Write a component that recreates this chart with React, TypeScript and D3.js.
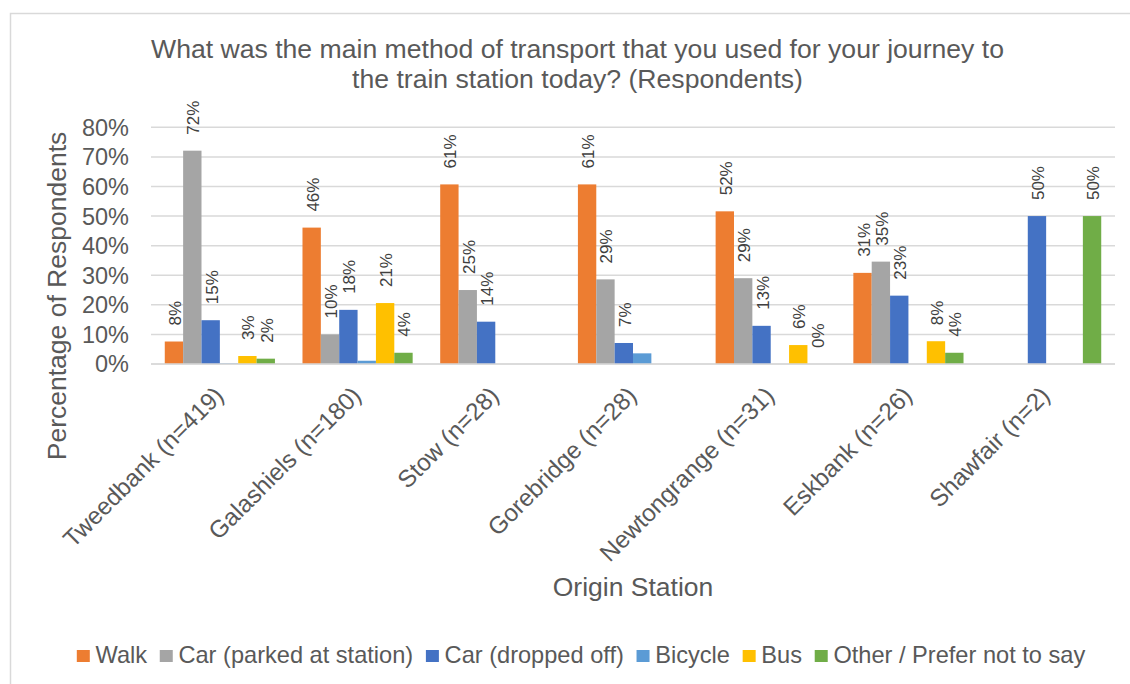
import React, { useEffect, useRef } from "react";
import * as d3 from "d3";

const categories = [
  "Tweedbank (n=419)",
  "Galashiels (n=180)",
  "Stow (n=28)",
  "Gorebridge (n=28)",
  "Newtongrange (n=31)",
  "Eskbank (n=26)",
  "Shawfair (n=2)",
];

const seriesNames = [
  "Walk",
  "Car (parked at station)",
  "Car (dropped off)",
  "Bicycle",
  "Bus",
  "Other / Prefer not to say",
];
const seriesColors = ["#ED7D31", "#A5A5A5", "#4472C4", "#5B9BD5", "#FFC000", "#70AD47"];
const seriesLabelled = [true, true, true, false, true, true];

const walk: (number | null)[] = [7.6, 46.1, 60.7, 60.7, 51.6, 30.8, null];
const carParked: (number | null)[] = [72.1, 10.0, 25.0, 28.6, 29.0, 34.6, null];
const carDropped: (number | null)[] = [14.8, 18.3, 14.3, 7.1, 12.9, 23.1, 50];
const bicycle: (number | null)[] = [0.2, 1.1, null, 3.6, null, null, null];
const bus: (number | null)[] = [2.7, 20.6, null, null, 6.4, 7.7, null];
const other: (number | null)[] = [1.8, 3.8, null, null, 0, 3.8, 50];

const seriesValues = [walk, carParked, carDropped, bicycle, bus, other];

const yTicks = [0, 10, 20, 30, 40, 50, 60, 70, 80];

const titleLines = [
  "What was the main method of transport that you used for your journey to",
  "the train station today? (Respondents)",
];
const yTitle = "Percentage of Respondents";
const xTitle = "Origin Station";

const W = 1130;
const H = 684;
const FONT = "'Liberation Sans', Arial, sans-serif";
const TEXT = "#595959";

export default function App() {
  const ref = useRef<SVGSVGElement | null>(null);

  useEffect(() => {
    const svg = d3.select(ref.current);
    svg.selectAll("*").remove();

    // frame
    svg
      .append("rect")
      .attr("x", 10.5)
      .attr("y", 13.5)
      .attr("width", 1300)
      .attr("height", 900)
      .attr("fill", "#fff")
      .attr("stroke", "#D9D9D9")
      .attr("stroke-width", 1.5);

    const left = 151;
    const right = 1115;
    const top = 127.3;
    const bottom = 364;

    const x0 = d3.scaleBand<string>().domain(categories).range([left, right]).paddingInner(0).paddingOuter(0);
    const x1 = d3
      .scaleBand<string>()
      .domain(seriesNames)
      .range([0, x0.bandwidth()])
      .paddingInner(0)
      .paddingOuter(0.75);
    const y = d3.scaleLinear().domain([0, 80]).range([bottom, top]);

    // title
    const title = svg
      .append("text")
      .attr("text-anchor", "middle")
      .attr("font-family", FONT)
      .attr("font-size", 26.6)
      .attr("fill", TEXT);
    titleLines.forEach((t, i) => {
      title.append("tspan").attr("x", 577.5).attr("y", 58 + i * 30).text(t);
    });

    // gridlines
    const g = svg.append("g");
    g.selectAll("line.grid")
      .data(yTicks)
      .join("line")
      .attr("x1", left)
      .attr("x2", right)
      .attr("y1", (d) => y(d))
      .attr("y2", (d) => y(d))
      .attr("stroke", "#D9D9D9")
      .attr("stroke-width", 1.5);

    // y tick labels
    g.selectAll("text.ytick")
      .data(yTicks)
      .join("text")
      .attr("x", 129)
      .attr("y", (d) => y(d))
      .attr("dy", "0.36em")
      .attr("text-anchor", "end")
      .attr("font-family", FONT)
      .attr("font-size", 23.5)
      .attr("fill", TEXT)
      .text((d) => `${d}%`);

    // bars
    seriesNames.forEach((s, si) => {
      const vals = seriesValues[si];
      const data = categories
        .map((c, ci) => ({ c, v: vals[ci] }))
        .filter((d) => d.v !== null) as { c: string; v: number }[];
      g.append("g")
        .selectAll("rect")
        .data(data)
        .join("rect")
        .attr("x", (d) => (x0(d.c) as number) + (x1(s) as number))
        .attr("y", (d) => y(d.v))
        .attr("width", x1.bandwidth())
        .attr("height", (d) => bottom - y(d.v))
        .attr("fill", seriesColors[si]);

      if (seriesLabelled[si]) {
        g.append("g")
          .selectAll("text")
          .data(data)
          .join("text")
          .attr("transform", (d) => {
            const cx = (x0(d.c) as number) + (x1(s) as number) + x1.bandwidth() / 2 + 7;
            const cy = y(d.v) - 16;
            return `translate(${cx},${cy}) rotate(-90)`;
          })
          .attr("text-anchor", "start")
          .attr("font-family", FONT)
          .attr("font-size", 17)
          .attr("fill", "#404040")
          .text((d) => `${Math.round(d.v)}%`);
      }
    });

    // x axis line
    g.append("line")
      .attr("x1", left)
      .attr("x2", right)
      .attr("y1", bottom)
      .attr("y2", bottom)
      .attr("stroke", "#D9D9D9")
      .attr("stroke-width", 1.5);

    // category labels
    g.selectAll("text.cat")
      .data(categories)
      .join("text")
      .attr("transform", (d) => {
        const cx = (x0(d) as number) + x0.bandwidth() / 2 + 5;
        return `translate(${cx},${bottom + 33}) rotate(-45)`;
      })
      .attr("text-anchor", "end")
      .attr("font-family", FONT)
      .attr("font-size", 24.2)
      .attr("fill", TEXT)
      .text((d) => d);

    // axis titles
    svg
      .append("text")
      .attr("transform", `translate(66,296) rotate(-90)`)
      .attr("text-anchor", "middle")
      .attr("font-family", FONT)
      .attr("font-size", 26.5)
      .attr("fill", TEXT)
      .text(yTitle);

    svg
      .append("text")
      .attr("x", 633)
      .attr("y", 596)
      .attr("text-anchor", "middle")
      .attr("font-family", FONT)
      .attr("font-size", 26.5)
      .attr("fill", TEXT)
      .text(xTitle);

    // legend
    const leg = svg.append("g");
    const sw = 13;
    const swGap = 5.7;
    const itemGap = 12.7;
    const items = seriesNames.map((s, i) => {
      const ig = leg.append("g");
      ig.append("rect").attr("width", sw).attr("height", 12).attr("y", 650).attr("fill", seriesColors[i]);
      const t = ig
        .append("text")
        .attr("y", 663)
        .attr("font-family", FONT)
        .attr("font-size", 23.6)
        .attr("fill", TEXT)
        .text(s);
      const w = (t.node() as SVGTextElement).getComputedTextLength();
      return { ig, t, w };
    });
    const total =
      items.reduce((a, it) => a + sw + swGap + it.w, 0) + itemGap * (items.length - 1);
    let cx = 581 - total / 2;
    items.forEach((it) => {
      it.ig.select("rect").attr("x", cx);
      it.t.attr("x", cx + sw + swGap);
      cx += sw + swGap + it.w + itemGap;
    });
  }, []);

  return (
    <svg
      ref={ref}
      width={W}
      height={H}
      style={{ position: "absolute", left: 0, top: 0, background: "#fff" }}
    />
  );
}
